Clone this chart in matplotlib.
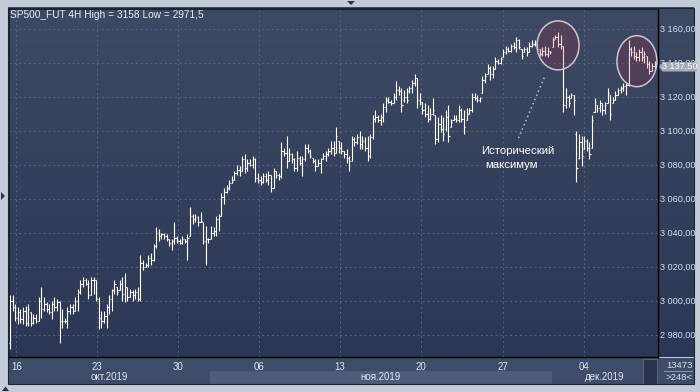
import matplotlib
matplotlib.use("Agg")
import matplotlib.pyplot as plt
import numpy as np
from matplotlib.patches import Rectangle, Ellipse, Polygon
from matplotlib import transforms

plt.rcParams['font.family'] = ['Liberation Sans', 'DejaVu Sans']

# ---------------- data (4H bars) ----------------
highs = [
    3003, 3003, 2998, 2996, 2995, 2996, 2997, 2998, 2993, 2992,
    2992, 3002, 3008, 3002, 2999, 2998, 3000, 3002, 3001, 3000,
    2995, 2990, 2996, 2998, 2998, 3002, 3007, 3012, 3014, 3013,
    3012, 3014, 3014, 3012, 3002, 2994, 2994, 2998, 3003, 3007,
    3012, 3008, 3012, 3014, 3016, 3008, 3007, 3006, 3007, 3008,
    3027, 3024, 3022, 3027, 3028, 3033, 3043, 3042, 3040, 3040,
    3039, 3036, 3036, 3046, 3038, 3036, 3038, 3036, 3039, 3055,
    3051, 3051, 3050, 3052, 3046, 3044, 3037, 3044, 3043, 3050,
    3051, 3063, 3066, 3068, 3071, 3073, 3076, 3080, 3079, 3085,
    3086, 3083, 3083, 3085, 3084, 3075, 3073, 3075, 3075, 3076,
    3074, 3078, 3076, 3075, 3093, 3090, 3097, 3090, 3087, 3084,
    3088, 3085, 3085, 3092, 3092, 3089, 3084, 3083, 3083, 3084,
    3087, 3088, 3090, 3094, 3094, 3102, 3094, 3093, 3088, 3089,
    3085, 3097, 3096, 3098, 3100, 3097, 3096, 3097, 3098, 3109,
    3112, 3109, 3110, 3116, 3120, 3120, 3118, 3122, 3129, 3126,
    3125, 3124, 3125, 3126, 3130, 3133, 3131, 3122, 3117, 3116,
    3115, 3113, 3119, 3109, 3108, 3109, 3108, 3112, 3115, 3107,
    3109, 3109, 3115, 3113, 3112, 3113, 3113, 3122, 3122, 3121,
    3120, 3132, 3134, 3139, 3138, 3138, 3143, 3142, 3143, 3148,
    3150, 3149, 3151, 3152, 3155, 3154, 3148, 3149, 3149, 3152,
    3153, 3153, 3151, 3148, 3149, 3150, 3149, 3147, 3155, 3156,
    3158, 3156, 3150, 3125, 3121, 3122, 3121, 3100, 3098, 3097,
    3097, 3095, 3093, 3109, 3119, 3115, 3118, 3116, 3117, 3125,
    3121, 3120, 3123, 3125, 3126, 3128, 3128, 3153, 3149, 3150,
    3146, 3148, 3149, 3147, 3144, 3141, 3140, 3141,
]
lows = [
    2971.5, 2994, 2988, 2986, 2987, 2986, 2985, 2985, 2985, 2986,
    2987, 2988, 2990, 2994, 2993, 2992, 2989, 2994, 2994, 2975,
    2984, 2987, 2984, 2992, 2992, 2994, 2994, 3004, 3008, 3009,
    3001, 3003, 3004, 3000, 2983, 2984, 2987, 2984, 2992, 2994,
    3004, 3003, 3006, 3000, 2999, 3000, 3002, 3000, 3001, 3000,
    3000, 3018, 3020, 3020, 3021, 3023, 3031, 3035, 3036, 3036,
    3035, 3032, 3030, 3033, 3034, 3033, 3033, 3034, 3024, 3038,
    3045, 3046, 3044, 3046, 3033, 3021, 3034, 3036, 3038, 3038,
    3041, 3050, 3057, 3063, 3065, 3069, 3071, 3074, 3073, 3076,
    3075, 3076, 3079, 3078, 3070, 3069, 3068, 3069, 3070, 3068,
    3064, 3066, 3072, 3071, 3072, 3085, 3078, 3082, 3081, 3076,
    3076, 3080, 3073, 3082, 3087, 3084, 3081, 3076, 3079, 3075,
    3083, 3082, 3085, 3086, 3085, 3087, 3087, 3086, 3084, 3081,
    3076, 3082, 3091, 3092, 3089, 3089, 3088, 3082, 3084, 3095,
    3105, 3105, 3103, 3105, 3111, 3116, 3115, 3116, 3118, 3121,
    3111, 3117, 3116, 3122, 3122, 3126, 3113, 3115, 3110, 3108,
    3105, 3106, 3109, 3092, 3093, 3099, 3094, 3100, 3093, 3102,
    3106, 3105, 3105, 3105, 3098, 3106, 3110, 3111, 3118, 3117,
    3117, 3122, 3128, 3133, 3130, 3131, 3136, 3139, 3139, 3143,
    3145, 3146, 3146, 3148, 3146, 3148, 3142, 3146, 3144, 3146,
    3149, 3150, 3147, 3144, 3144, 3144, 3143, 3145, 3149, 3154,
    3149, 3148, 3111, 3113, 3114, 3119, 3109, 3070, 3083, 3079,
    3089, 3088, 3083, 3090, 3111, 3111, 3111, 3109, 3110, 3116,
    3106, 3116, 3118, 3121, 3122, 3123, 3121, 3126, 3144, 3142,
    3141, 3141, 3141, 3140, 3137, 3133, 3135, 3136,
]
opens = [
    2975, 3000, 2996, 2990, 2993, 2989, 2994, 2987, 2993, 2987,
    2990, 2988, 3000, 2995, 2998, 2995, 2993, 2998, 2996, 2999,
    2988, 2988, 2988, 2994, 2996, 2994, 3000, 3005, 3010, 3012,
    3010, 3003, 3012, 3012, 3001, 2990, 2988, 2991, 2996, 3001,
    3006, 3008, 3006, 3010, 3004, 3008, 3002, 3005, 3003, 3005,
    3001, 3022, 3020, 3021, 3025, 3024, 3032, 3040, 3038, 3039,
    3038, 3036, 3034, 3035, 3037, 3035, 3034, 3036, 3035, 3038,
    3050, 3048, 3049, 3046, 3046, 3035, 3036, 3036, 3040, 3041,
    3048, 3050, 3061, 3064, 3066, 3069, 3071, 3075, 3077, 3076,
    3083, 3078, 3081, 3080, 3083, 3072, 3071, 3070, 3073, 3071,
    3074, 3066, 3076, 3074, 3073, 3088, 3087, 3082, 3086, 3083,
    3078, 3084, 3081, 3083, 3090, 3088, 3084, 3082, 3079, 3081,
    3083, 3085, 3086, 3088, 3090, 3087, 3094, 3090, 3088, 3086,
    3084, 3082, 3095, 3093, 3096, 3092, 3094, 3090, 3085, 3096,
    3107, 3108, 3106, 3108, 3114, 3118, 3117, 3116, 3120, 3124,
    3123, 3118, 3120, 3123, 3125, 3128, 3131, 3118, 3117, 3112,
    3110, 3107, 3110, 3109, 3095, 3104, 3101, 3101, 3108, 3102,
    3106, 3107, 3106, 3112, 3107, 3106, 3110, 3112, 3120, 3119,
    3118, 3122, 3130, 3133, 3137, 3133, 3136, 3141, 3140, 3143,
    3146, 3148, 3147, 3150, 3149, 3153, 3148, 3146, 3148, 3146,
    3150, 3151, 3151, 3148, 3145, 3147, 3145, 3147, 3149, 3154,
    3155, 3151, 3150, 3115, 3120, 3119, 3121, 3098, 3084, 3093,
    3089, 3094, 3090, 3090, 3111, 3115, 3113, 3116, 3112, 3116,
    3121, 3116, 3118, 3121, 3124, 3125, 3126, 3127, 3148, 3146,
    3144, 3143, 3146, 3143, 3144, 3139, 3135, 3138,
]
closes = [
    3000, 2996, 2990, 2993, 2989, 2994, 2987, 2995, 2987, 2990,
    2988, 3000, 2995, 2998, 2995, 2993, 2998, 2996, 2999, 2988,
    2988, 2988, 2994, 2996, 2994, 3000, 3005, 3010, 3012, 3010,
    3003, 3012, 3012, 3001, 2990, 2988, 2991, 2996, 3001, 3006,
    3010, 3005, 3010, 3004, 3008, 3002, 3005, 3003, 3005, 3001,
    3022, 3020, 3021, 3025, 3024, 3032, 3040, 3038, 3039, 3038,
    3036, 3034, 3035, 3037, 3035, 3034, 3036, 3035, 3037, 3050,
    3048, 3049, 3046, 3047, 3035, 3036, 3036, 3040, 3041, 3048,
    3050, 3061, 3064, 3066, 3069, 3071, 3075, 3077, 3076, 3083,
    3078, 3081, 3080, 3083, 3072, 3071, 3070, 3073, 3071, 3074,
    3066, 3076, 3074, 3073, 3088, 3087, 3082, 3086, 3083, 3078,
    3084, 3081, 3083, 3090, 3088, 3085, 3082, 3079, 3081, 3083,
    3085, 3086, 3088, 3090, 3087, 3097, 3090, 3088, 3086, 3084,
    3082, 3095, 3093, 3096, 3092, 3094, 3090, 3085, 3096, 3107,
    3108, 3106, 3108, 3114, 3118, 3117, 3116, 3120, 3124, 3123,
    3115, 3120, 3118, 3125, 3128, 3131, 3118, 3117, 3112, 3110,
    3107, 3110, 3112, 3095, 3104, 3101, 3098, 3108, 3097, 3105,
    3107, 3106, 3112, 3107, 3102, 3110, 3112, 3120, 3119, 3118,
    3119, 3130, 3132, 3137, 3133, 3136, 3141, 3140, 3142, 3146,
    3148, 3147, 3150, 3149, 3153, 3149, 3144, 3148, 3146, 3150,
    3151, 3152, 3148, 3145, 3147, 3145, 3147, 3146, 3153, 3155,
    3151, 3150, 3115, 3120, 3116, 3121, 3118, 3078, 3093, 3085,
    3094, 3090, 3086, 3106, 3117, 3113, 3116, 3112, 3115, 3122,
    3110, 3118, 3121, 3124, 3125, 3126, 3127, 3148, 3146, 3144,
    3143, 3146, 3143, 3145, 3139, 3135, 3138, 3137.5,
]

y_ticks = [2980, 3000, 3020, 3040, 3060, 3080, 3100, 3120, 3140, 3160]
week_labels = ['16', '23', '30', '06', '13', '20', '27', '04']
week_bars = [2.4, 33.4, 64.5, 95.5, 126.5, 157.6, 189.0, 220.0]   # bar index of each week mark
month_labels = ['окт.2019', 'ноя.2019', 'дек.2019']
month_starts = [76.6, 207.7]                                      # bar index where Nov / Dec begin
title = 'SP500_FUT 4H High = 3158 Low = 2971,5'
note_lines = ['Исторический', 'максимум']
corner_top, corner_bottom = '13473', '>248<'

# ---------------- figure ----------------
W, H = 700, 392
fig = plt.figure(figsize=(W / 100, H / 100), dpi=100)
fig.patch.set_facecolor('#c3ccd9')

bg = fig.add_axes([0, 0, 1, 1])
bg.set_xlim(0, W)
bg.set_ylim(H, 0)
bg.axis('off')

# gradient panel (plot + price scale)
g = np.linspace(0, 1, 256)[:, None, None]
c_top = np.array([62, 74, 99]) / 255
c_bot = np.array([43, 55, 84]) / 255
img = c_top * (1 - g) + c_bot * g
bg.imshow(img, extent=(8, 694, 357.5, 8), aspect='auto', interpolation='bilinear', zorder=0)

# time-scale strip
bg.add_patch(Rectangle((8, 357.5), 686, 26.5, fc='#3f4c67', ec='none', zorder=1))

# main axes
L, R, T, B = 9, 657.5, 9, 357
ax = fig.add_axes([L / W, (H - B) / H, (R - L) / W, (B - T) / H])
ax.set_facecolor('none')

x = np.arange(len(highs))
ax.set_xlim(-0.38, 248.1)
ax.set_ylim(2966.8, 3171.5)

# month band (Nov highlighted) - x in data, y in pixels
blend = transforms.blended_transform_factory(ax.transData, bg.transData)
bg.add_patch(Rectangle((month_starts[0], 371), month_starts[1] - month_starts[0], 12.5,
                       transform=blend, fc='#4d5c78', ec='none', zorder=2))
x0, x1 = ax.get_xlim()
edges = [x0] + month_starts + [x1]
for lab, a, b in zip(month_labels, edges[:-1], edges[1:]):
    bg.text((a + b) / 2, 377, lab, transform=blend, ha='center', va='center',
            fontsize=7, color='#dde6f2', zorder=3)

# OHLC bars
ax.vlines(x, lows, highs, color='white', lw=0.8, zorder=3)
ax.hlines(opens, x - 0.45, x, color='white', lw=0.8, zorder=3)
ax.hlines(closes, x, x + 0.45, color='white', lw=0.8, zorder=3)

# grid and scales
ax.grid(True, color='#56647f', ls=(0, (2, 3)), lw=0.7)
ax.set_yticks(y_ticks)
ax.set_yticklabels([f"{v:,.2f}".replace(',', ' ').replace('.', ',') for v in y_ticks])
ax.yaxis.tick_right()
ax.tick_params(axis='y', length=0, pad=2, labelsize=6.6, labelcolor='#cfe0f2')
ax.set_xticks(week_bars)
ax.set_xticklabels(week_labels)
ax.tick_params(axis='x', length=0, pad=3.5, labelsize=7, labelcolor='#dde6f2')
for s in ['right', 'bottom']:
    ax.spines[s].set_color('black')
    ax.spines[s].set_linewidth(1.0)
for s in ['left', 'top']:
    ax.spines[s].set_color('#1c2331')
    ax.spines[s].set_linewidth(0.8)

# highlight ellipses
for (cx, cy, w, h) in [(210.0, 3150.1, 16.1, 28.8), (240.2, 3140.8, 15.3, 30.0)]:
    ax.add_patch(Ellipse((cx, cy), w, h, fc=(0.75, 0.1, 0.18, 0.17),
                         ec='#cfc3d3', lw=1.1, zorder=5, clip_on=False))

# annotation
ax.plot([204.7, 194.8], [3131.1, 3095.4], ls=(0, (1, 2)), color='#b8c0cc', lw=1.1, zorder=4)
ax.text(180.5, 3088, note_lines[0], fontsize=8.2, color='white', ha='left', va='center', zorder=6)
ax.text(182.0, 3080, note_lines[1], fontsize=8.2, color='white', ha='left', va='center', zorder=6)

# last price marker on the scale
last = closes[-1]
pb = transforms.blended_transform_factory(ax.transAxes, ax.transData)
fx = lambda px: (px - L) / (R - L)
dy = 4.75 / 1.7
ax.add_patch(Polygon([(fx(659), last), (fx(662.5), last + dy), (fx(697), last + dy),
                      (fx(697), last - dy), (fx(662.5), last - dy)],
                     closed=True, transform=pb, fc='#a3abb8', ec='none', zorder=10, clip_on=False))
ax.text(fx(680), last, f"{last:,.2f}".replace(',', ' ').replace('.', ','), transform=pb,
        ha='center', va='center', fontsize=6.6, color='white', zorder=11, clip_on=False)

# title
bg.text(10, 15, title, fontsize=7.3, color='#e8eef6', ha='left', va='center', zorder=5)

# bottom-right corner
bg.add_patch(Rectangle((643, 358.5), 14, 25, fc='#28334b', ec='#56637c', lw=0.8, zorder=3))
bg.text(679, 365, corner_top, fontsize=6.8, color='#d6e2f0', ha='center', va='center', zorder=5)
bg.plot([664, 692], [371, 371], color='#8793a8', lw=0.8, zorder=5)
bg.text(679, 377.5, corner_bottom, fontsize=6.8, color='#d6e2f0', ha='center', va='center', zorder=5)

# outer frame and small scroll arrows
bg.add_patch(Rectangle((8, 8), 686, 376, fill=False, ec='#1c2331', lw=0.8, zorder=6))
for pts in ([(347, 1), (355, 1), (351, 5)], [(1, 192), (1, 200), (5, 196)], [(2, 391), (9, 391), (5.5, 386.5)]):
    bg.add_patch(Polygon(pts, closed=True, fc='#2b3140', ec='none', zorder=6))

fig.savefig('out.png', dpi=100, facecolor=fig.get_facecolor())
